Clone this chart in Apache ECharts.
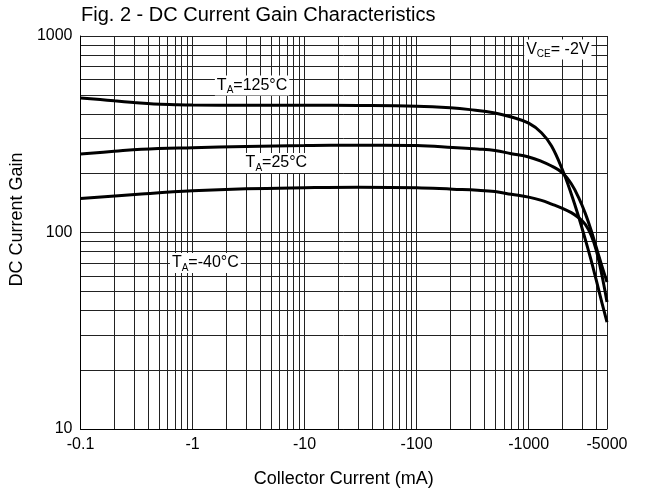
<!DOCTYPE html>
<html>
<head>
<meta charset="utf-8">
<script src="https://cdn.jsdelivr.net/npm/echarts@6/dist/echarts.min.js"></script>
<style>
  html, body { margin: 0; padding: 0; background: #fff; }
  #chart { width: 649px; height: 493px; }
</style>
</head>
<body>
<div id="chart"></div>
<script>
// collector current (mA, shown with a minus sign) and DC current gain per temperature
const current125 = [0.1, 0.15, 0.2, 0.3, 0.45, 0.7, 1, 3, 10, 30, 100, 200, 300, 500, 700, 1000, 1300, 1600, 2000, 2400, 2800, 3200, 3600, 4000, 4500, 5000];
const gain125    = [484, 475, 468, 459, 451, 447, 445, 444, 444, 443, 439, 431, 422, 406, 387, 360, 322, 275.6, 208.5, 157.1, 119.6, 92.2, 72.5, 57.5, 44, 35];

const current25 = [0.1, 0.2, 0.35, 1, 3, 10, 17, 50, 100, 210, 350, 500, 700, 1000, 1300, 1600, 2000, 2400, 2800, 3200, 3600, 4000, 4500, 5000];
const gain25    = [251, 259, 265, 270, 274, 277, 278, 278, 277, 271, 266, 261.4, 251.8, 242.3, 230.4, 218.1, 201.3, 177, 150, 125.1, 103.1, 84.4, 67.6, 56];

const currentM40 = [0.1, 0.35, 1, 3, 10, 30, 100, 210, 350, 500, 700, 1000, 1300, 1600, 2000, 2400, 2800, 3200, 3600, 4000, 4500, 5000];
const gainM40    = [149, 157, 163, 167, 169, 170, 169, 166, 164, 161.5, 156.4, 151.4, 145.8, 139.6, 132.8, 126.2, 118.7, 110, 97.2, 81.5, 60.8, 44.3];

// axis labels
const xLabels = [0.1, 1, 10, 100, 1000, 5000];
const yLabels = [10, 100, 1000];
const mantissa = [1, 2, 3, 4, 5, 6, 7, 8, 9];

// annotation anchors (data coords)
const note125 = [3.4, 560];
const note25 = [5.6, 226];
const noteM40 = [1.3, 70];
const noteVce = [1820, 853];

const FONT = '"Liberation Sans", Arial, sans-serif';

function gridValues(decades, max) {
  const out = [];
  decades.forEach(d => {
    mantissa.forEach(m => {
      const v = +(m * d).toPrecision(6);
      if (v <= max) out.push(v);
    });
  });
  out.push(max);
  return out;
}
const xGrid = gridValues([0.1, 1, 10, 100, 1000], 5000);
const yGrid = gridValues([10, 100], 1000);

const richText = {
  m: { fontSize: 16, fontFamily: FONT, color: '#000', lineHeight: 20 },
  s: { fontSize: 10, fontFamily: FONT, color: '#000', padding: [10, 0, 0, 0], lineHeight: 20 }
};

function note(coord, text) {
  return {
    coord: coord,
    symbol: 'rect',
    symbolSize: 1,
    itemStyle: { color: 'rgba(0,0,0,0)' },
    label: {
      show: true,
      position: 'inside',
      formatter: text,
      backgroundColor: '#fff',
      padding: [0, 2],
      rich: richText
    }
  };
}

function curve(name, xs, ys) {
  return {
    name: name,
    type: 'line',
    data: xs.map((x, i) => [x, ys[i]]),
    symbol: 'none',
    smooth: 0.4,
    lineStyle: { color: '#000', width: 3 },
    silent: true,
    z: 5
  };
}

const chart = echarts.init(document.getElementById('chart'));

const series = [
  curve('125', current125, gain125),
  curve('25', current25, gain25),
  curve('-40', currentM40, gainM40)
];
series[0].markPoint = {
  silent: true,
  data: [
    note(note125, '{m|T}{s|A}{m|=125°C}'),
    note(note25, '{m|T}{s|A}{m|=25°C}'),
    note(noteM40, '{m|T}{s|A}{m|=-40°C}'),
    note(noteVce, '{m|V}{s|CE}{m|= -2V}')
  ]
};

let option = {
  animation: false,
  backgroundColor: '#fff',
  title: {
    text: 'Fig. 2 - DC Current Gain Characteristics',
    left: 81,
    top: 5,
    padding: 0,
    textStyle: { fontSize: 20, fontWeight: 'normal', color: '#000', fontFamily: FONT }
  },
  grid: { left: 80, right: 42, top: 36, bottom: 64 },
  xAxis: {
    type: 'log',
    min: 0.1,
    max: 5000,
    name: 'Collector Current (mA)',
    nameLocation: 'middle',
    nameGap: 41,
    nameTextStyle: { fontSize: 18, color: '#000', fontFamily: FONT },
    axisLine: { show: true, lineStyle: { color: '#000', width: 1 } },
    axisTick: { show: false, customValues: xGrid },
    axisLabel: {
      customValues: xLabels,
      margin: 8,
      fontSize: 16,
      color: '#000',
      fontFamily: FONT,
      formatter: v => '-' + (+(+v).toPrecision(6))
    },
    splitLine: { show: true, lineStyle: { color: '#222', width: 1 } }
  },
  yAxis: {
    type: 'log',
    min: 10,
    max: 1000,
    name: 'DC Current Gain',
    nameLocation: 'middle',
    nameGap: 48,
    nameTextStyle: { fontSize: 18, color: '#000', fontFamily: FONT, padding: [0, 0, 0, 26] },
    axisLine: { show: true, lineStyle: { color: '#000', width: 1 } },
    axisTick: { show: false, customValues: yGrid },
    axisLabel: {
      customValues: yLabels,
      margin: 8,
      fontSize: 16,
      color: '#000',
      fontFamily: FONT,
      formatter: v => String(+(+v).toPrecision(6))
    },
    splitLine: { show: true, lineStyle: { color: '#222', width: 1 } }
  },
  series: series
};

chart.setOption(option);
</script>
</body>
</html>
